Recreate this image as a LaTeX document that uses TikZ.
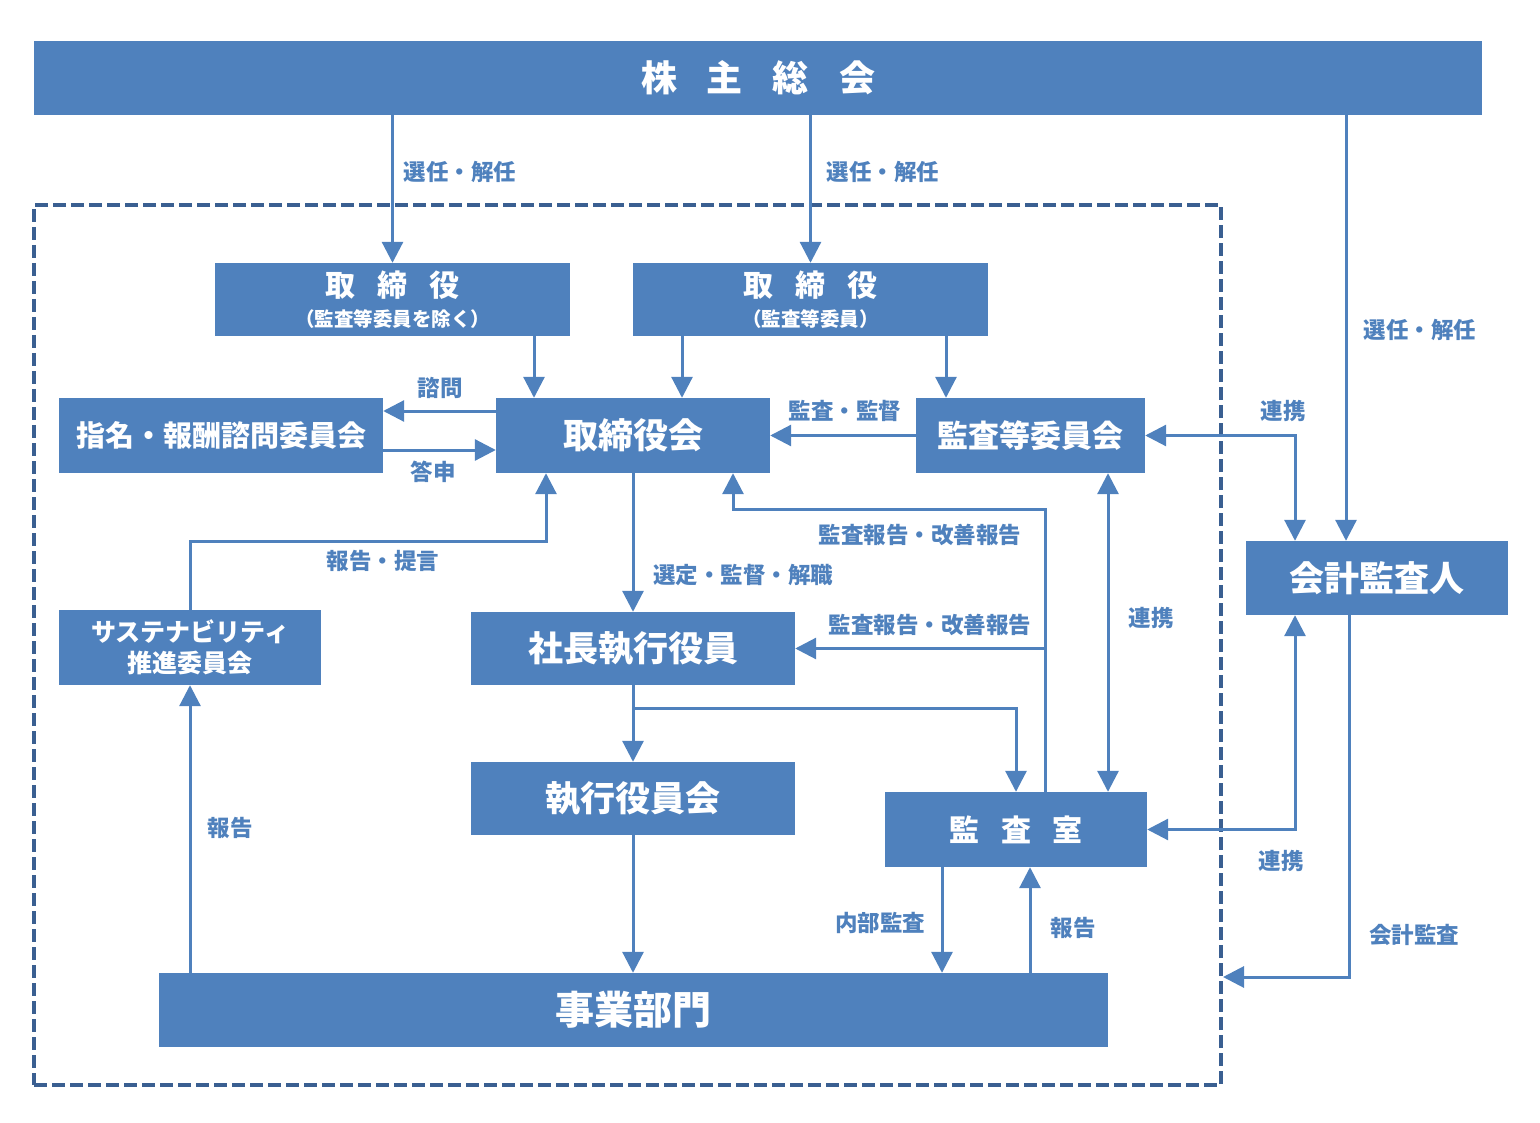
\documentclass[tikz,border=0pt]{standalone}
\usepackage{fontspec}
\setmainfont{Noto Sans CJK JP}
\usetikzlibrary{arrows.meta}

\definecolor{boxblue}{HTML}{4F81BD}
\definecolor{frameblue}{HTML}{3A5F91}

\tikzset{
  box/.style={fill=boxblue, text=white, inner sep=0pt, align=center},
  arr/.style={draw=boxblue, line width=3pt, -{Triangle[width=21pt,length=21pt]}},
  twoway/.style={draw=boxblue, line width=3pt, {Triangle[width=21pt,length=21pt]}-{Triangle[width=21pt,length=21pt]}},
  lbl/.style={text=boxblue, inner sep=0pt, font=\fontsize{22.5}{26}\selectfont\bfseries},
  grpframe/.style={draw=frameblue, line width=4pt, dash pattern=on 13pt off 5pt},
}
\newcommand{\fs}[1]{\fontsize{#1}{#1}\selectfont\bfseries}

\begin{document}
\begin{tikzpicture}[x=1pt, y=-1pt]
  \useasboundingbox (0,0) rectangle (1540,1123);

  % group frame
  \node[grpframe, minimum width=1187, minimum height=880] (grp) at (627.5,645) {};

  % boxes
  \node[box, minimum width=1448, minimum height=74, font=\fs{36}] (kabu) at (758,78)
    {株\hspace{30pt}主\hspace{30pt}総\hspace{30pt}会};
  \node[box, minimum width=355, minimum height=73, font=\fontsize{19.5}{30}\selectfont] (tori1) at (392.5,299.5)
    {{\fs{30}取\hspace{22pt}締\hspace{22pt}役}\\{\fs{19.5}（監査等委員を除く）}};
  \node[box, minimum width=355, minimum height=73, font=\fontsize{19.5}{30}\selectfont] (tori2) at (810.5,299.5)
    {{\fs{30}取\hspace{22pt}締\hspace{22pt}役}\\{\fs{19.5}（監査等委員）}};
  \node[box, minimum width=324, minimum height=75, font=\fs{29}] (shimei) at (221,435.5) {指名・報酬諮問委員会};
  \node[box, minimum width=274, minimum height=75, font=\fs{35}] (torikai) at (633,435.5) {取締役会};
  \node[box, minimum width=229, minimum height=75, font=\fs{31}] (kansa) at (1030.5,435.5) {監査等委員会};
  \node[box, minimum width=262, minimum height=74, font=\fs{35}] (kaikei) at (1377,578) {会計監査人};
  \node[box, minimum width=262, minimum height=75, font=\fontsize{25}{31}\selectfont\bfseries] (susta) at (190,647.5)
    {サステナビリティ\\推進委員会};
  \node[box, minimum width=324, minimum height=73, font=\fs{35}] (shacho) at (633,648.5) {社長執行役員};
  \node[box, minimum width=324, minimum height=73, font=\fs{35}] (shikko) at (633,798.5) {執行役員会};
  \node[box, minimum width=262, minimum height=75, font=\fs{30}] (kanshitsu) at (1016,829.5)
    {監\hspace{22pt}査\hspace{22pt}室};
  \node[box, minimum width=949, minimum height=74, font=\fs{39}] (jigyo) at (633.5,1010) {事業部門};

  % connectors
  \draw[arr] (kabu.south -| tori1.north) -- (tori1.north);
  \draw[arr] (kabu.south -| tori2.north) -- (tori2.north);
  \draw[arr] (1346,0 |- kabu.south) -- (1346,0 |- kaikei.north);
  \draw[arr] (534,0 |- tori1.south) -- (534,0 |- torikai.north);
  \draw[arr] (682,0 |- tori2.south) -- (682,0 |- torikai.north);
  \draw[arr] (946,0 |- tori2.south) -- (946,0 |- kansa.north);
  \draw[arr] (torikai.west |- 0,411) -- (shimei.east |- 0,411);
  \draw[arr] (shimei.east |- 0,450) -- (torikai.west |- 0,450);
  \draw[arr] (kansa.west) -- (torikai.east);
  \draw[twoway] (1295,0 |- kaikei.north) |- (kansa.east);
  \draw[twoway] (1108,0 |- kansa.south) -- (1108,0 |- kanshitsu.north);
  \draw[arr] (1045,0 |- kanshitsu.north) -- (1045,509) -| (733,0 |- torikai.south);
  \draw[arr] (1045,0 |- shacho.east) -- (shacho.east);
  \draw[arr] (torikai.south) -- (shacho.north);
  \draw[arr] (shacho.south) -- (shikko.north);
  \draw[arr] (shacho.south |- 0,708) -| (kanshitsu.north);
  \draw[arr] (shikko.south) -- (shikko.south |- jigyo.north);
  \draw[arr] (942,0 |- kanshitsu.south) -- (942,0 |- jigyo.north);
  \draw[arr] (1030,0 |- jigyo.north) -- (1030,0 |- kanshitsu.south);
  \draw[arr] (susta.south |- jigyo.north) -- (susta.south);
  \draw[arr] (susta.north) -- (susta.north |- 0,541) -| (546,0 |- torikai.south);
  \draw[twoway] (1295,0 |- kaikei.south) |- (kanshitsu.east);
  \draw[arr] (1349,0 |- kaikei.south) |- (grp.east |- 0,977);

  % labels
  \node[lbl] (l1) at (460,172) {選任・解任};
  \node[lbl] (l2) at (883,172) {選任・解任};
  \node[lbl] (l3) at (1420,330) {選任・解任};
  \node[lbl] (l4) at (440,388) {諮問};
  \node[lbl] (l5) at (433,472) {答申};
  \node[lbl] (l6) at (845,411) {監査・監督};
  \node[lbl] (l7) at (1283,411) {連携};
  \node[lbl] (l8) at (920,535) {監査報告・改善報告};
  \node[lbl] (l9) at (743,575) {選定・監督・解職};
  \node[lbl] (l10) at (930,625) {監査報告・改善報告};
  \node[lbl] (l11) at (1151,618) {連携};
  \node[lbl] (l12) at (383,561) {報告・提言};
  \node[lbl] (l13) at (230,828) {報告};
  \node[lbl] (l14) at (880,923) {内部監査};
  \node[lbl] (l15) at (1073,928) {報告};
  \node[lbl] (l16) at (1281,861) {連携};
  \node[lbl] (l17) at (1414,935) {会計監査};
\end{tikzpicture}
\end{document}
